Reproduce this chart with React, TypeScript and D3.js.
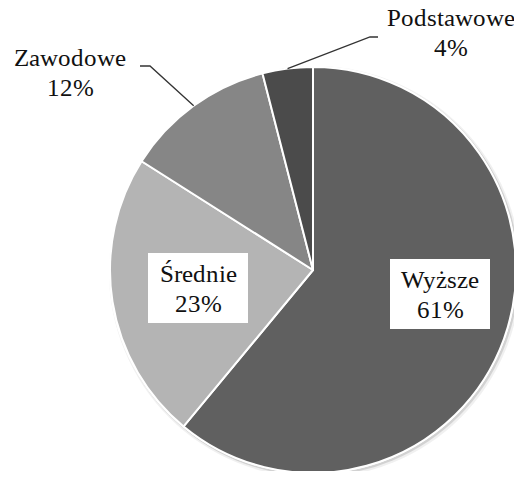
import React from 'react';
import * as d3 from 'd3';

// education level shares (%)
const categories = ['Wyższe', 'Średnie', 'Zawodowe', 'Podstawowe'];
const values = [61, 23, 12, 4];
const colors = ['#606060', '#b4b4b4', '#868686', '#4b4b4b'];

const W = 522;
const H = 479;
const cx = 313;
const cy = 270;
const R = 203;
const FONT = '"PieSerif", "Liberation Serif", "Times New Roman", Tinos, serif';
const FS = 25;

// label layout, relative to the pie centre
const labelPos: Record<string, { x: number; y: number; boxed: boolean; leader?: [number, number][] }> = {
  'Wyższe': { x: 127, y: 24, boxed: true },
  'Średnie': { x: -115, y: 18, boxed: true },
  'Zawodowe': { x: -243, y: -198, boxed: false, leader: [[-173, -204], [-163, -204]] },
  'Podstawowe': { x: 138, y: -238, boxed: false, leader: [[65, -233], [57, -233]] },
};

type Slice = { name: string; value: number; color: string };

const css = `
@font-face { font-family: "PieSerif"; src: local("Liberation Serif"), local("LiberationSerif"), local("LiberationSerif-Regular"), local("Liberation Serif Regular"); }
.pie-label { font-family: ${FONT} !important; font-size: ${FS}px; }
`;

export default function App() {
  const data: Slice[] = categories.map((c, i) => ({ name: c, value: values[i], color: colors[i] }));
  const arcs = d3.pie<Slice>().value(d => d.value).sort(null)(data);
  const arc = d3.arc<d3.PieArcDatum<Slice>>().innerRadius(0).outerRadius(R);

  // point on the rim at the slice's mid angle
  const rim = (d: d3.PieArcDatum<Slice>, r: number): [number, number] => {
    const a = (d.startAngle + d.endAngle) / 2;
    return [r * Math.sin(a), -r * Math.cos(a)];
  };

  return (
    <svg width={W} height={H} style={{ display: 'block', margin: -8 }}>
      <style>{css}</style>
      <rect width={W} height={H} fill="#fff" />
      {/* soft shadow under the pie */}
      <circle cx={cx + 2} cy={cy + 2} r={R + 3} fill="#000" opacity={0.06} />
      <circle cx={cx + 1.5} cy={cy + 1.5} r={R + 1.5} fill="#000" opacity={0.12} />
      <circle cx={cx} cy={cy} r={R + 1} fill="#fff" />
      {arcs.map(d => (
        <path
          key={d.data.name}
          d={arc(d) || ''}
          transform={`translate(${cx},${cy})`}
          fill={d.data.color}
          stroke="#fff"
          strokeWidth={2}
          strokeLinejoin="round"
        />
      ))}
      {arcs.map(d => {
        const lp = labelPos[d.data.name];
        const [ex, ey] = rim(d, R);
        const leader = lp.leader
          ? d3.line()([...lp.leader, [ex, ey]].map(p => [p[0] + cx, p[1] + cy] as [number, number]))
          : null;
        const x = cx + lp.x;
        const y = cy + lp.y;
        return (
          <g key={d.data.name}>
            {leader && <path d={leader} fill="none" stroke="#333" strokeWidth={1.3} />}
            {lp.boxed && <rect x={x - 50} y={y - 35} width={100} height={70} fill="#fff" />}
            <text className="pie-label" x={x} y={y - 6} textAnchor="middle" fill="#111">
              {d.data.name}
            </text>
            <text className="pie-label" x={x} y={y + 24} textAnchor="middle" fill="#111">
              {`${d.data.value}%`}
            </text>
          </g>
        );
      })}
    </svg>
  );
}
